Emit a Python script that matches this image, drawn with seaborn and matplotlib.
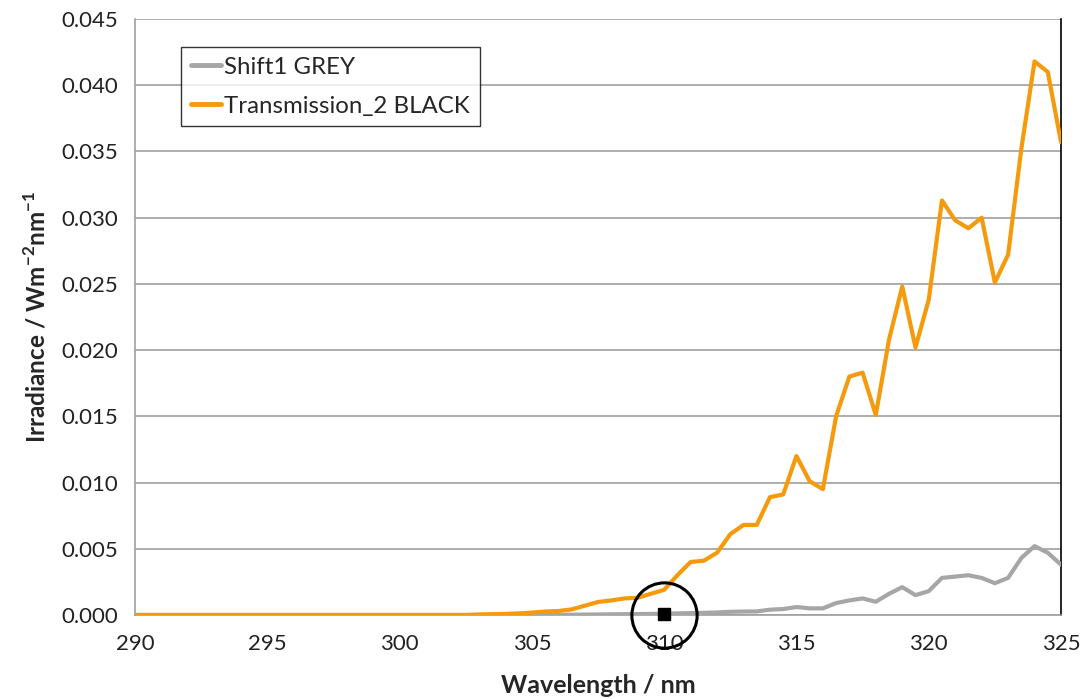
import numpy as np
import pandas as pd
import seaborn as sns
import matplotlib.pyplot as plt
from matplotlib.lines import Line2D

# wavelength grid, 0.5 nm steps
wavelength = np.arange(290, 325.5, 0.5)

shift1_grey = [
	0.0, 0.0, 0.0, 0.0, 0.0, 0.0, 0.0, 0.0, 0.0, 0.0,
	0.0, 0.0, 0.0, 0.0, 0.0, 0.0, 0.0, 0.0, 0.0, 0.0,
	0.0, 0.0, 0.0, 0.0, 0.0, 0.0, 0.0, 0.0, 0.0, 0.0,
	0.0, 0.0,
	0.00001, 0.00002, 0.00003, 0.00004, 0.00005, 0.00006, 0.00007, 0.00008,
	0.0001, 0.00012, 0.00014, 0.00016, 0.00019, 0.00024, 0.00026, 0.00027,
	0.0004, 0.00045, 0.0006, 0.0005, 0.0005, 0.0009, 0.0011, 0.00125,
	0.001, 0.0016, 0.0021, 0.0015, 0.0018, 0.0028, 0.0029, 0.0030,
	0.0028, 0.0024, 0.0028, 0.0043, 0.0052, 0.0047, 0.0038,
]

transmission_2_black = [
	0.0, 0.0, 0.0, 0.0, 0.0, 0.0, 0.0, 0.0, 0.0, 0.0,
	0.0, 0.0, 0.0, 0.0, 0.0, 0.0, 0.0, 0.0, 0.0, 0.0,
	0.0, 0.0, 0.0, 0.0, 0.0, 0.0,
	0.00004, 0.00006, 0.00008, 0.00012, 0.00018, 0.00026, 0.0003, 0.00042,
	0.0007, 0.00098, 0.0011, 0.00125, 0.0013, 0.0016, 0.0019, 0.0030,
	0.0040, 0.0041, 0.0047, 0.0061, 0.0068, 0.0068, 0.0089, 0.0091,
	0.0120, 0.0101, 0.0095, 0.0150, 0.0180, 0.0183, 0.0151, 0.0208,
	0.0248, 0.0202, 0.0238, 0.0313, 0.0298, 0.0292, 0.0300, 0.0251,
	0.0272, 0.0352, 0.0418, 0.0410, 0.0357,
]

series_names = ['Shift1 GREY', 'Transmission_2 BLACK']
series_colors = ['#A6A6A6', '#F59A0C']

# highlighted point
mark_x = [310]
mark_y = [0.0001]

df = pd.DataFrame({
	'wavelength': np.concatenate([wavelength, wavelength]),
	'irradiance': shift1_grey + transmission_2_black,
	'series': [series_names[0]] * len(wavelength) + [series_names[1]] * len(wavelength),
})

sns.set_style('white')
plt.rcParams['font.family'] = ['Lato', 'DejaVu Sans']
plt.rcParams['mathtext.fontset'] = 'custom'
plt.rcParams['mathtext.rm'] = 'Lato'
plt.rcParams['mathtext.bf'] = 'Lato:bold'

fig = plt.figure(figsize=(10.84, 6.99), dpi=100)
ax = fig.add_axes([0.1245, 0.1202, 0.8543, 0.8526])

sns.lineplot(data=df, x='wavelength', y='irradiance', hue='series',
			 palette=dict(zip(series_names, series_colors)), linewidth=3,
			 legend=False, ax=ax, zorder=3)

ax.set_xlim(290, 325)
ax.set_ylim(0, 0.045)
ax.set_xticks(range(290, 326, 5))
ax.set_yticks(np.arange(0, 0.0451, 0.005))
ax.set_yticklabels(['%.3f' % v for v in np.arange(0, 0.0451, 0.005)])
ax.grid(axis='y', color='#A0A0A0', linewidth=1.2)
ax.set_axisbelow(True)

for side in ['left', 'bottom']:
	ax.spines[side].set_color('#A0A0A0')
	ax.spines[side].set_linewidth(1.2)
ax.spines['top'].set_visible(False)
ax.spines['right'].set_color('black')
ax.spines['right'].set_linewidth(1.2)

ax.tick_params(axis='both', direction='out', length=7, width=1.2, color='#A0A0A0',
			   labelsize=16, labelcolor='#222222', pad=5)
ax.tick_params(axis='x', pad=7)

ax.set_xlabel('Wavelength / nm', fontsize=18, fontweight='bold', labelpad=14)
ax.set_ylabel(r'Irradiance / Wm$^{\mathbf{-2}}$nm$^{\mathbf{-1}}$', fontsize=17.5,
			  fontweight='bold', labelpad=9)

# highlight marker at 310 nm
ax.plot(mark_x, [0], marker='o', markersize=47, markerfacecolor='none',
		markeredgecolor='black', markeredgewidth=2.2, clip_on=False, zorder=5)
ax.plot(mark_x, mark_y, marker='s', markersize=9, color='black', clip_on=False, zorder=6)

handles = [Line2D([], [], color=c, linewidth=3.5) for c in series_colors]
leg = ax.legend(handles, series_names, loc='upper left', bbox_to_anchor=(0.0497, 0.953),
				fontsize=17.3, frameon=True, fancybox=False, handlelength=1.25,
				handletextpad=0.15, borderpad=0.4, labelspacing=0.75, borderaxespad=0)
leg.get_frame().set_edgecolor('black')
leg.get_frame().set_linewidth(1.0)

fig.savefig('out.png', dpi=100)
